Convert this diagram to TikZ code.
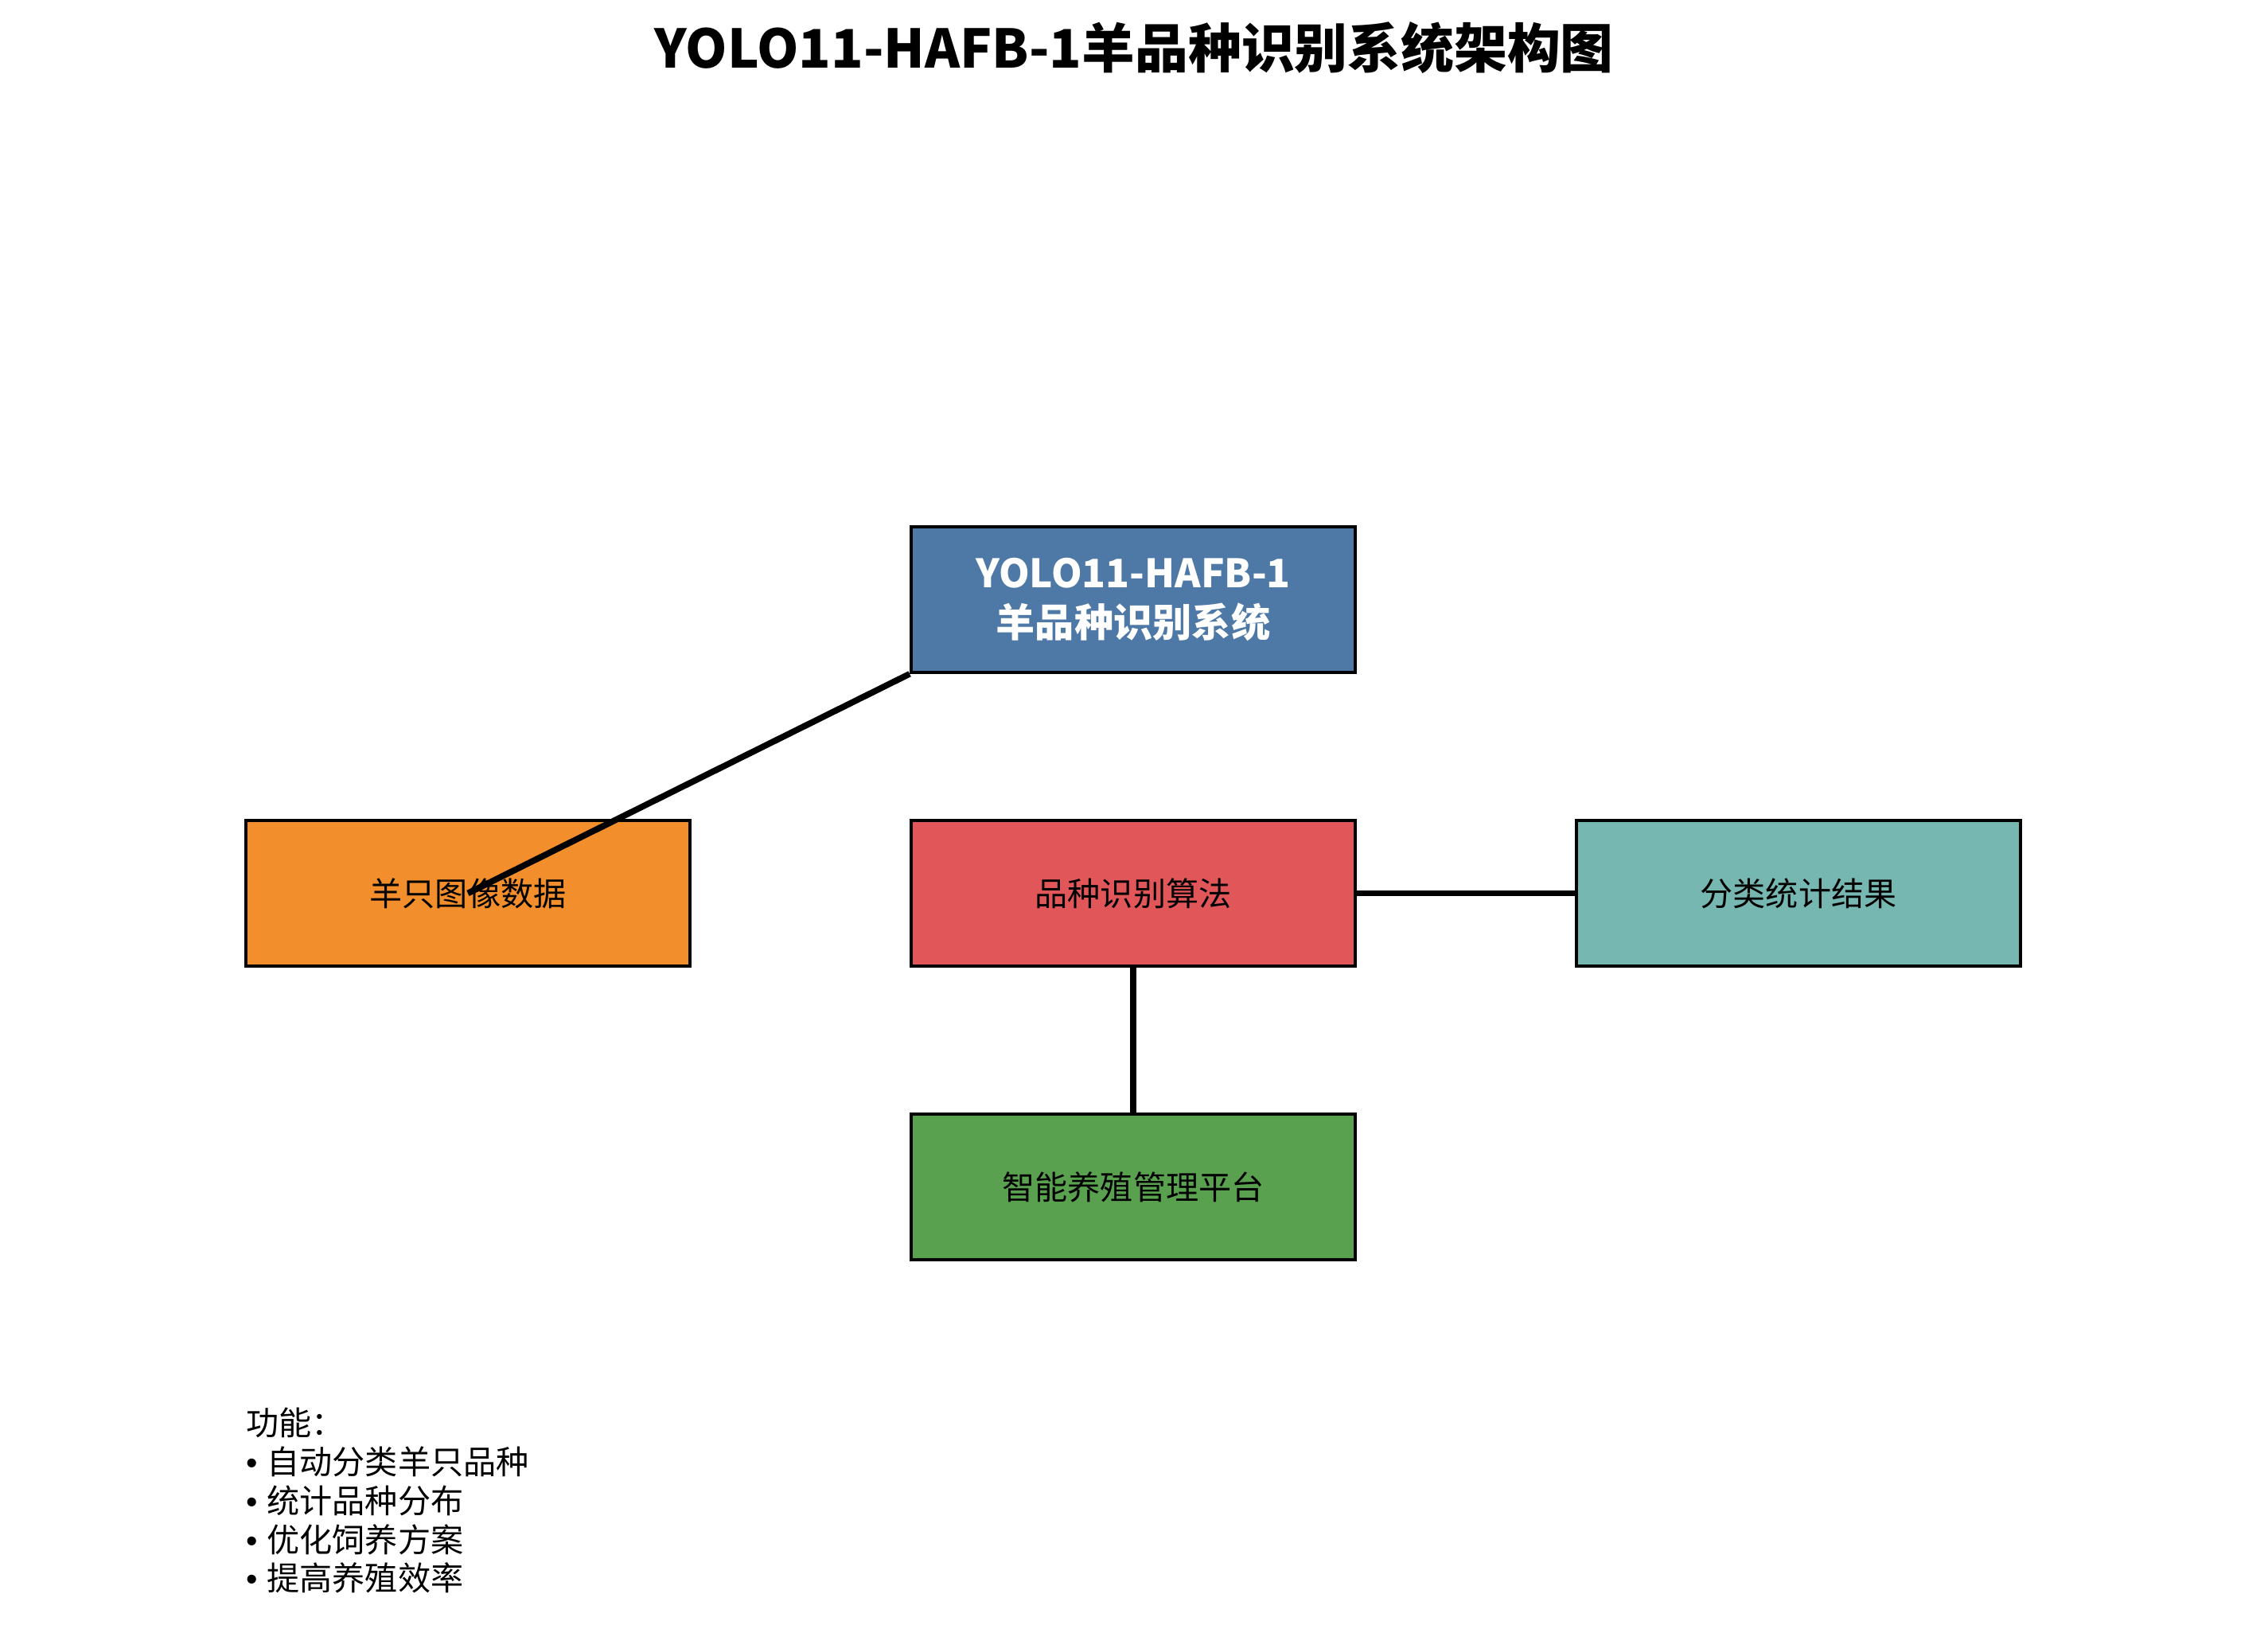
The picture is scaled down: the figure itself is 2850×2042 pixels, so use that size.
\documentclass[tikz,border=0pt]{standalone}
\usepackage{fontspec}
\setmainfont{Noto Sans CJK SC}
\newfontfamily\latinfont{Liberation Sans}
\newcommand{\bul}{{\latinfont •\ }}
\definecolor{cblue}{HTML}{4E79A7}
\definecolor{corange}{HTML}{F28E2B}
\definecolor{cred}{HTML}{E15759}
\definecolor{cteal}{HTML}{76B7B2}
\definecolor{cgreen}{HTML}{59A14F}
\begin{document}
\begin{tikzpicture}[x=0.01cm,y=-0.01cm,
  box/.style={draw=black,line width=1pt,minimum width=5.58cm,minimum height=1.83cm,inner sep=0pt,font=\fontsize{11.7}{14}\selectfont,text=black},
  link/.style={draw=black,line width=2.2pt}]
\useasboundingbox (0,0) rectangle (2850,2042);
\node[font=\bfseries\fontsize{19}{23}\selectfont] (title) at (1425,60) {YOLO11-HAFB-1羊品种识别系统架构图};
\node[box,fill=cblue,text=white,align=center,font=\bfseries\fontsize{14}{17.5}\selectfont] (sys) at (1424,753.5) {YOLO11-HAFB-1\\羊品种识别系统};
\node[box,fill=corange] (img) at (588,1122.5) {羊只图像数据};
\node[box,fill=cred] (alg) at (1424,1122.5) {品种识别算法};
\node[box,fill=cteal] (res) at (2260,1122.5) {分类统计结果};
\node[box,fill=cgreen] (plat) at (1424,1491.5) {智能养殖管理平台};
\draw[link] (sys.south west) -- (img.center);
\draw[link] (alg.east) -- (res.west);
\draw[link] (alg.south) -- (plat.north);
\node[anchor=north west,align=left,inner sep=0pt,font=\fontsize{11.7}{13.9}\selectfont] (func) at (309,1768) {功能：\\\bul 自动分类羊只品种\\\bul 统计品种分布\\\bul 优化饲养方案\\\bul 提高养殖效率};
\end{tikzpicture}
\end{document}
